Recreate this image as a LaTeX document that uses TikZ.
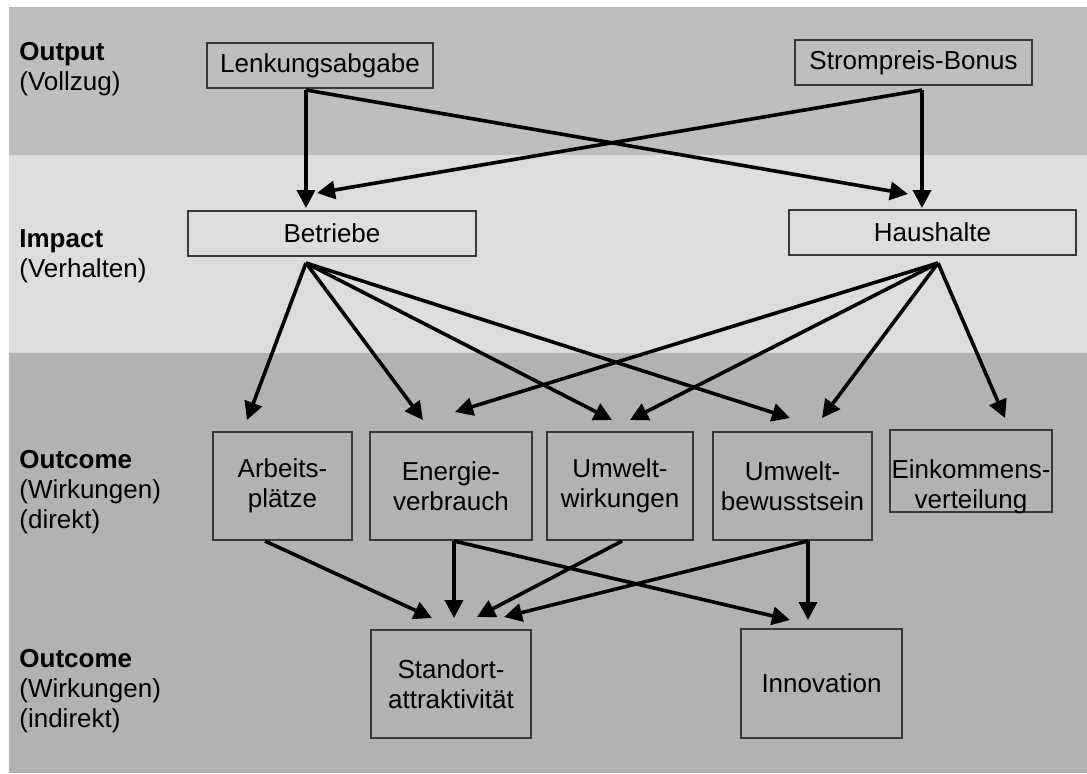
\documentclass[tikz,border=0pt]{standalone}
\usepackage{fontspec}
\setmainfont{Liberation Sans}
\usetikzlibrary{arrows.meta}
\definecolor{bandA}{HTML}{BEBEBE}
\definecolor{bandB}{HTML}{DDDDDD}
\definecolor{bandC}{HTML}{B2B2B2}
\definecolor{boxline}{HTML}{383838}
\begin{document}
\begin{tikzpicture}[x=0.5pt,y=-0.5pt,
  every node/.style={font=\fontsize{13}{15}\selectfont},
  box/.style={draw=boxline, line width=0.6pt, inner sep=0pt, align=center},
  lbl/.style={anchor=west, align=left, inner sep=0pt},
  txt/.style={align=center, inner sep=0pt},
  conn/.style={line width=1.8pt, -{Triangle[length=9pt,width=9pt]}}]
\useasboundingbox (0,0) rectangle (1087,773);
\fill[white] (0,0) rectangle (1087,773);
\fill[bandA] (9,7) rectangle (1087,155);
\fill[bandB] (9,155) rectangle (1087,353);
\fill[bandC] (9,353) rectangle (1087,773);

% row labels
\node[lbl] (lOut) at (19,69) {\textbf{Output}\\(Vollzug)};
\node[lbl] (lImp) at (19,256) {\textbf{Impact}\\(Verhalten)};
\node[lbl] (lDir) at (19,492) {\textbf{Outcome}\\(Wirkungen)\\(direkt)};
\node[lbl] (lInd) at (19,691) {\textbf{Outcome}\\(Wirkungen)\\(indirekt)};

% boxes
\node[box, minimum width=113pt, minimum height=22.5pt] (lenk) at (320,65.5) {Lenkungsabgabe};
\node[box, minimum width=118.5pt, minimum height=22.5pt] (strom) at (913.5,62.5) {Strompreis-Bonus};
\node[box, minimum width=144pt, minimum height=22.5pt] (betr) at (332,233.5) {Betriebe};
\node[box, minimum width=143.5pt, minimum height=22.5pt] (haus) at (932.5,232.5) {Haushalte};

\node[box, minimum width=69.5pt, minimum height=54pt] (arb) at (282.5,486) {Arbeits-\\plätze};
\node[box, minimum width=81pt, minimum height=54pt] (ener) at (451,486) {Energie-\\verbrauch};
\node[box, minimum width=73pt, minimum height=54pt] (umw) at (620,486) {Umwelt-\\wirkungen};
\node[box, minimum width=79.5pt, minimum height=54pt] (bew) at (792.5,486) {Umwelt-\\bewusstsein};
\node[box, minimum width=81pt, minimum height=41pt] (eink) at (971,471) {};
\node[txt] (einkT) at (971,487) {Einkommens-\\verteilung};

\node[box, minimum width=80pt, minimum height=54pt] (stand) at (451,684) {Standort-\\attraktivität};
\node[box, minimum width=80.5pt, minimum height=54.5pt] (innov) at (821.5,683.5) {Innovation};

% connector end points
\coordinate (lenkS) at (306,90);
\coordinate (stromS) at (922,90);
\coordinate (betrS) at (306,263);
\coordinate (hausS) at (938,263);
\coordinate (arbS) at (265,541);
\coordinate (enerS) at (454,541);
\coordinate (umwS) at (622,541);
\coordinate (bewS) at (808,541);

\coordinate (betrT1) at (306,208);
\coordinate (betrT2) at (317,193);
\coordinate (hausT1) at (908,194);
\coordinate (hausT2) at (922,208);

\coordinate (arbT) at (247,420);
\coordinate (enerT1) at (423,420);
\coordinate (enerT2) at (455,412);
\coordinate (umwT1) at (612,420);
\coordinate (umwT2) at (630,420);
\coordinate (bewT1) at (790,418);
\coordinate (bewT2) at (822,418);
\coordinate (einkA) at (1005,418);

\coordinate (standT1) at (432,618);
\coordinate (standT2) at (454,618);
\coordinate (standT3) at (477,617);
\coordinate (standT4) at (504,617);
\coordinate (innovT1) at (790,620);
\coordinate (innovT2) at (808,620);

% connectors
\draw[conn] (lenkS) -- (betrT1);
\draw[conn] (lenkS) -- (hausT1);
\draw[conn] (stromS) -- (betrT2);
\draw[conn] (stromS) -- (hausT2);

\draw[conn] (betrS) -- (arbT);
\draw[conn] (betrS) -- (enerT1);
\draw[conn] (betrS) -- (umwT1);
\draw[conn] (betrS) -- (bewT1);
\draw[conn] (hausS) -- (enerT2);
\draw[conn] (hausS) -- (umwT2);
\draw[conn] (hausS) -- (bewT2);
\draw[conn] (hausS) -- (einkA);

\draw[conn] (arbS) -- (standT1);
\draw[conn] (enerS) -- (standT2);
\draw[conn] (enerS) -- (innovT1);
\draw[conn] (umwS) -- (standT3);
\draw[conn] (bewS) -- (standT4);
\draw[conn] (bewS) -- (innovT2);
\end{tikzpicture}
\end{document}
